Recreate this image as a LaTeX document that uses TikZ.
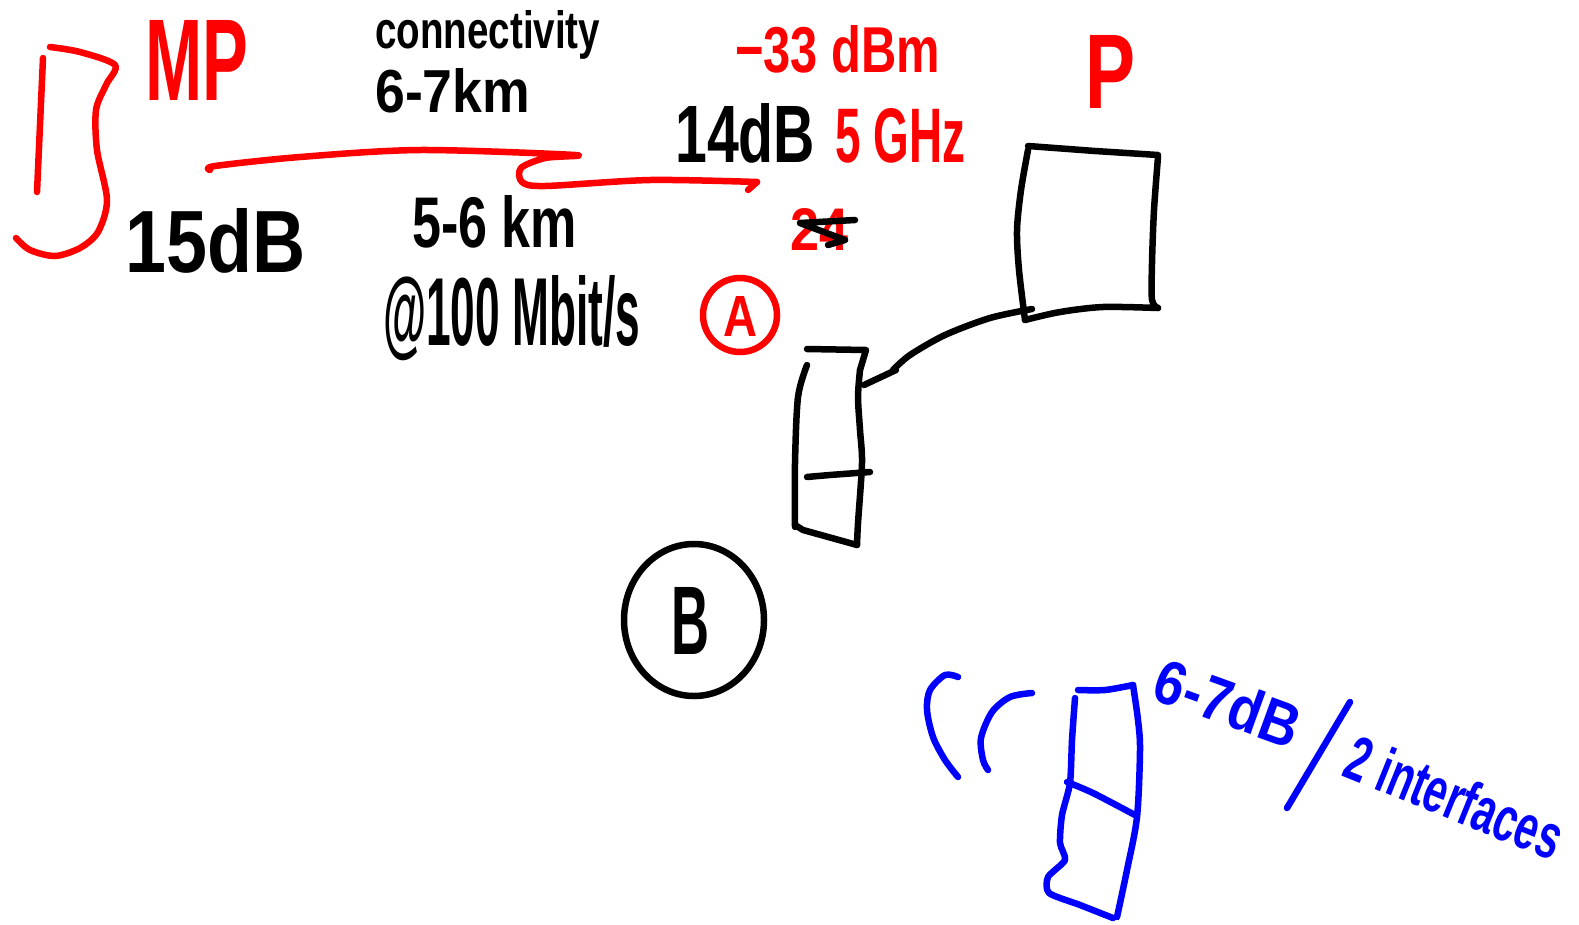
\documentclass[tikz,border=0pt]{standalone}
\usepackage{fontspec}
\setmainfont{Liberation Sans}
\usepackage{graphicx}
\usetikzlibrary{shapes.geometric}
\definecolor{penred}{RGB}{255,0,0}
\definecolor{penblue}{RGB}{0,0,255}
\newcommand{\hw}[3]{\resizebox{#1pt}{#2pt}{\bfseries #3}}
\begin{document}
\begin{tikzpicture}[x=1pt,y=-1pt,
  ink/.style={line width=6.5pt,line cap=round,line join=round},
  redink/.style={ink,draw=penred},
  blueink/.style={ink,draw=penblue},
  blackink/.style={ink,draw=black},
  txt/.style={inner sep=0pt,anchor=base west}]
\useasboundingbox[fill=white] (0,0) rectangle (1579,924);

% left red antenna shape
\draw[redink] (43,58) -- (37,192);
\draw[redink] plot[smooth] coordinates {(50,47) (80,52) (115,65) (106,85) (96,110) (97,150) (107,200) (98,232) (80,248) (55,256) (30,250) (16,238)};

% texts
\node[txt,text=penred] (mp) at (145,100) {\hw{103}{80}{MP}};
\node[txt] (conn) at (375,48) {\hw{225}{38}{connectivity}};
\node[txt] (km67) at (375,112) {\hw{155}{44}{6-7km}};
\node[txt,text=penred] (dbm) at (735,72) {\hw{205}{47}{−33 dBm}};
\node[txt] (db14) at (675,162) {\hw{140}{59}{14dB}};
\node[txt,text=penred] (ghz) at (835,162) {\hw{130}{54}{5 GHz}};
\node[txt,text=penred] (p) at (1085,108) {\hw{50}{73}{P}};
\node[txt] (db15) at (125,272) {\hw{180}{64}{15dB}};
\node[txt] (km56) at (412,247) {\hw{165}{52}{5-6 km}};
\node[txt] (rate) at (383,345) {\hw{257}{70}{@100 Mbit/s}};

% struck-out 24
\node[txt,text=penred] (struck) at (790,250) {\hw{58}{42}{24}};
\draw[blackink] (855,220) -- (800,223) -- (845,240) -- (828,245);

% red link line
\draw[redink] plot[smooth,tension=0.5] coordinates {(210,170) (215,166) (300,157) (420,150) (575,155) (545,158) (521,168) (522,182) (545,186) (650,180) (757,182)};
\draw[redink] (757,182) -- (748,190);

% circled A
\node[circle,draw=penred,line width=6.5pt,minimum size=74pt,inner sep=0pt] (A) at (740,315) {};
\node[text=penred,inner sep=0pt] (Alab) at (740,316) {\hw{34}{40}{A}};

% circled B
\node[ellipse,draw=black,line width=6.5pt,minimum width=140pt,minimum height=152pt,inner sep=0pt] (B) at (694,620) {};
\node[inner sep=0pt] (Blab) at (690,621) {\hw{38}{67}{B}};

% black square (P)
\draw[blackink] (1028,146) -- (1095,151) -- (1158,155);
\draw[blackink] plot[smooth] coordinates {(1158,157) (1154,210) (1152,263) (1152,300) (1158,308)};
\draw[blackink] plot[smooth] coordinates {(1158,308) (1103,307) (1060,312) (1025,320)};
\draw[blackink] plot[smooth] coordinates {(1025,320) (1019,270) (1017,230) (1021,190) (1028,150)};
\coordinate (sqout) at (1032,309);

% black tall rectangle
\coordinate (rectin) at (864,385);
\draw[blackink] (807,349) -- (866,350) -- (860,370);
\draw[blackink] plot[smooth] coordinates {(860,370) (858,397) (860,430) (862,463) (858,523) (857,545)};
\draw[blackink] plot[smooth] coordinates {(807,365) (798,397) (795,463) (795,527)};
\draw[blackink] (795,525) -- (803,530) -- (857,545);
\draw[blackink] plot[smooth] coordinates {(807,477) (830,475) (870,472)};

% connector
\draw[blackink] plot[smooth] coordinates {(sqout) (990,318) (945,335) (910,355) (893,370)};
\draw[blackink] (896,370) -- (rectin);

% blue parts
\draw[blueink] plot[smooth] coordinates {(958,677) (945,675) (930,690) (927,710) (933,737) (945,760) (958,777)};
\draw[blueink] plot[smooth] coordinates {(1032,693) (1010,697) (992,712) (981,738) (983,760) (988,770)};
\draw[blueink] plot[smooth] coordinates {(1078,690) (1105,690) (1133,685)};
\draw[blueink] plot[smooth] coordinates {(1133,685) (1138,720) (1140,750) (1137,817) (1127,870) (1117,917)};
\draw[blueink] plot[smooth,tension=0.4] coordinates {(1075,698) (1072,740) (1070,783) (1062,815) (1060,843) (1065,860) (1048,877) (1049,893) (1080,905) (1113,918)};
\draw[blueink] plot[smooth] coordinates {(1067,782) (1093,793) (1135,815)};

\node[text=penblue,inner sep=0pt,rotate=-20] (db67) at (1228,703) {\hw{150}{45}{6-7dB}};
\draw[blueink] (1350,702) -- (1287,808);
\node[text=penblue,inner sep=0pt,rotate=-22] (intf) at (1455,797) {\hw{228}{46}{2 interfaces}};
\end{tikzpicture}
\end{document}
